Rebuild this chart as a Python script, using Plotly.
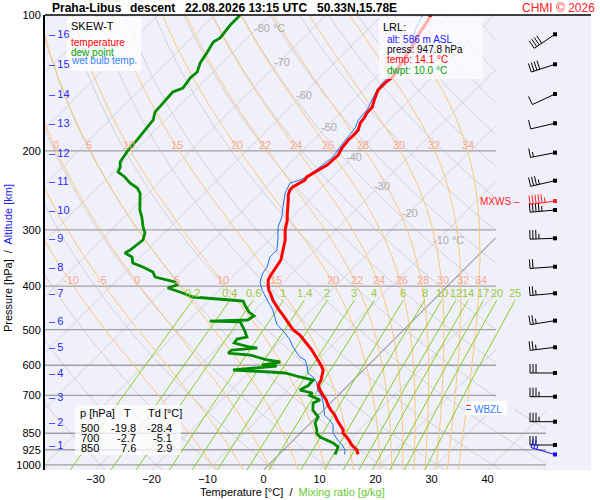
import numpy as np
import plotly.graph_objects as go

# ---------------- data ----------------
temp_p = [947.8, 926.3, 902.8, 880.0, 857.9, 850.0, 836.2, 815.0, 794.5, 774.3, 754.7, 735.6, 717.0, 700.0,
          681.2, 664.0, 647.2, 630.8, 614.8, 599.3, 584.1, 569.4, 554.9, 540.9, 527.2, 514.0, 500.0, 488.3,
          475.9, 463.9, 452.1, 440.7, 429.5, 418.7, 408.1, 397.8, 387.7, 377.9, 368.3, 359.0, 349.9, 341.1,
          332.5, 324.0, 315.9, 307.9, 300.1, 292.5, 285.1, 277.9, 270.9, 264.0, 257.3, 250.8, 244.5, 240.7,
          235.9, 232.3, 228.7, 224.1, 218.4, 215.1, 209.7, 204.4, 197.2, 189.2, 184.4, 179.8, 173.4, 169.1,
          164.8, 159.8, 154.2, 150.3, 146.5, 142.8, 140.6, 137.0, 132.2, 128.9, 123.7, 119.3, 115.1, 111.6,
          107.7, 105.0, 102.3, 100.0]
temp_T = [14.1, 13.1, 11.3, 9.9, 8.3, 7.6, 7.1, 5.6, 4.2, 2.9, 1.3, -0.1, -1.3, -2.7,
          -4.2, -5.4, -5.8, -6.5, -7.2, -8.5, -9.9, -11.3, -12.8, -14.4, -16.0, -17.6, -19.8, -21.2,
          -22.6, -24.2, -25.8, -27.2, -28.7, -29.9, -31.2, -32.2, -33.1, -33.5, -33.8, -34.0, -34.4, -35.1,
          -35.8, -36.5, -37.2, -38.1, -39.0, -39.7, -40.4, -41.3, -42.1, -42.9, -43.8, -44.7, -45.3, -45.3,
          -44.7, -44.4, -44.6, -44.2, -43.5, -43.1, -42.9, -42.9, -43.5, -43.8, -43.7, -43.8, -44.7, -44.9,
          -45.3, -45.4, -46.3, -46.9, -47.4, -47.4, -47.4, -47.1, -47.6, -47.9, -48.5, -48.8, -49.4, -49.9,
          -50.4, -50.6, -51.0, -51.3]

dew_p = [947.8, 926.3, 912.1, 893.6, 880.0, 866.6, 850.0, 836.2, 806.6, 782.2, 754.7, 728.1, 717.0, 700.0,
         691.7, 681.2, 665.7, 647.2, 637.2, 624.3, 621.1, 614.8, 602.4, 599.3, 590.1, 584.1, 569.4, 563.6,
         554.9, 549.3, 546.5, 535.4, 524.6, 519.3, 501.0, 480.7, 478.4, 475.9, 466.2, 456.8, 440.7, 431.7,
         429.5, 423.0, 412.3, 404.0, 397.8, 391.7, 381.8, 372.2, 362.7, 355.4, 344.6, 337.6, 332.5, 324.0,
         315.9, 304.7, 295.5, 280.8, 270.9, 248.3, 242.0, 235.9, 228.7, 222.9, 217.3, 211.8, 204.4, 199.2,
         189.2, 179.8, 170.8, 164.0, 156.6, 148.0, 145.0, 137.7, 133.6, 127.5, 121.2, 114.5, 112.2, 105.0,
         100.0]
dew_T = [10.0, 9.6, 9.2, 7.6, 6.0, 4.2, 2.9, 2.4, 0.8, 0.3, -1.9, -3.1, -2.4, -5.1,
         -5.0, -7.8, -7.1, -7.2, -10.1, -13.5, -16.3, -23.3, -16.2, -19.0, -16.3, -19.0, -22.9, -27.2,
         -27.1, -22.9, -24.4, -27.9, -28.1, -26.7, -28.4, -30.6, -36.2, -29.6, -29.2, -30.8, -32.8, -33.8,
         -36.3, -43.5, -46.7, -49.6, -48.5, -49.4, -53.8, -55.1, -57.8, -60.3, -61.5, -63.5, -63.1, -62.8,
         -62.6, -63.5, -64.9, -66.9, -68.5, -71.5, -72.9, -75.1, -77.1, -79.2, -79.7, -80.6, -81.0, -81.3,
         -81.5, -81.9, -82.2, -83.3, -83.5, -83.7, -82.6, -83.1, -82.9, -84.0, -84.6, -85.4, -84.9, -85.4,
         -85.4]

wb_p = [947.8, 926.3, 902.8, 880.0, 849.0, 815.0, 794.5, 776.3, 728.1, 706.1, 681.2, 657.2, 637.2, 624.3,
        605.3, 584.1, 575.3, 563.6, 546.5, 527.2, 511.4, 485.8, 452.1, 429.5, 408.1, 391.7, 374.1, 362.7,
        344.6, 332.5, 315.9, 295.5, 280.8, 266.7, 248.3, 235.9, 232.3, 228.7, 217.3, 206.5, 192.2, 178.0,
        170.8, 162.3, 154.2, 146.5, 141.3, 134.3, 119.3, 107.7, 100.0]
wb_T = [11.7, 11.0, 9.6, 7.9, 5.8, 4.4, 2.9, 1.2, -1.3, -2.6, -4.6, -6.0, -7.8, -9.4,
        -10.6, -12.2, -13.7, -14.9, -16.7, -18.5, -20.3, -23.7, -26.9, -29.7, -32.4, -34.2, -35.3, -35.6,
        -36.9, -36.9, -38.5, -40.8, -41.9, -43.5, -45.6, -46.5, -45.3, -44.6, -44.0, -43.5, -44.2, -44.7,
        -45.6, -45.8, -46.7, -47.6, -47.9, -47.9, -48.8, -51.5, -52.8]

alt_km = list(range(1, 17))
alt_p = [902.8, 801.2, 704.9, 624.3, 547.3, 477.5, 415.1, 362.2, 313.1, 270.9, 233.1, 201.9, 173.7,
         149.5, 128.4, 110.1]

wind_dir = [270, 270, 270, 270, 263, 261, 265, 266, 268, 265, 257, 259, 257, 245, 252, 236]
wind_kt = [30, 35, 35, 30, 25, 25, 25, 20, 35, 45, 35, 15, 10, 10, 40, 40]
mxws_p, mxws_dir, mxws_kt = 258.7, 262, 55
sfc_dir, sfc_kt = 286, 25
lrl_alt = 586

table_p = [500, 700, 850]
table_T = [-19.8, -2.7, 7.6]
table_Td = [-28.4, -5.1, 2.9]

p_ticks = [100, 200, 300, 400, 500, 600, 700, 850, 925, 1000]
t_ticks = [-30, -20, -10, 0, 10, 20, 30, 40]
isobars = [200, 300, 400, 500, 600, 700, 850, 925, 1000]
thw_list = [-10, -5, 0, 5, 10, 15, 20, 22, 24, 26, 28, 30, 32, 34]
thw_top = [0, 5, 10, 15, 20, 22, 24, 26, 28, 30, 32, 34]
mix_list = [0.2, 0.4, 0.6, 1, 1.4, 2, 3, 4, 6, 8, 10, 12, 14, 17, 20, 25]
iso_lab_T = [-80, -70, -60, -50, -40, -30, -20, -10]
iso_lab_p = [106.6, 126.9, 150.3, 177.0, 206.5, 239.5, 275.1, 315.9]

# ---------------- geometry ----------------
FONT = "Liberation Sans, Arial, sans-serif"
W, H = 600, 500
ML, MR, MT, MB = 45, 9, 15, 30
PW, PH = W - ML - MR, H - MT - MB
P_BOT, P_TOP = 1026.2, 99.74
SKEW = 34.857
X_MIN, X_MAX = -39.02, 58.48
XG1, XG2 = 41.52, 50.45


def skx(T, p):
    return np.asarray(T, float) + SKEW * np.log(P_BOT / np.asarray(p, float))


def px(x):
    return (x - ML) / PW


def py(y):
    return 1 - (y - MT) / PH


def lg(p):
    return float(np.log10(p))


def tolist(a):
    return [None if (v is None or not np.isfinite(v)) else float(v) for v in a]


def esat(Tc):
    return 6.112 * np.exp(17.67 * Tc / (Tc + 243.5))


def theta_e_sat(Tk, p):
    # Bolton (1980) equivalent potential temperature of saturated air
    e = esat(Tk - 273.15)
    r = 0.622 * e / (p - e)
    return Tk * (1000.0 / p) ** (0.2854 * (1 - 0.28 * r)) * np.exp((3.376 / Tk - 0.00254) * r * 1000 * (1 + 0.81 * r))


def moist(thw, pgrid):
    the = theta_e_sat(thw + 273.15, 1000.0)
    lo = np.full_like(pgrid, 120.0)
    hi = np.full_like(pgrid, 330.0)
    for _ in range(60):
        mid = 0.5 * (lo + hi)
        big = theta_e_sat(mid, pgrid) > the
        hi = np.where(big, mid, hi)
        lo = np.where(big, lo, mid)
    return 0.5 * (lo + hi) - 273.15


def mix_T(w, p):
    e = w * p / (622.0 + w)
    L = np.log(e / 6.112)
    return 243.5 * L / (17.67 - L)


fig = go.Figure()


def add(x, y, color, width, xaxis='x'):
    fig.add_trace(go.Scatter(x=x, y=y, mode='lines', line=dict(color=color, width=width),
                             hoverinfo='skip', showlegend=False, connectgaps=False, xaxis=xaxis))


# ---- gray lattice (isotherms + dry adiabats) ----
pp = np.geomspace(P_TOP, P_BOT, 800)
lim = np.where(pp < 750, XG1, XG2)
gx, gy = [], []
for T in range(-130, 60, 10):
    if T == 0:
        continue
    X = skx(np.full_like(pp, T), pp)
    X[X > lim] = np.nan
    gx += tolist(X) + [None]
    gy += list(pp) + [None]
for th in range(-40, 210, 10):
    Tk = (th + 273.15) * (pp / 1000.0) ** 0.2857
    X = skx(Tk - 273.15, pp)
    X[X > lim] = np.nan
    gx += tolist(X) + [None]
    gy += list(pp) + [None]
add(gx, gy, '#d2d2d8', 1)

# isobars
for p in isobars:
    add([X_MIN, XG2 if p >= 750 else XG1], [p, p], '#a0a0a0', 1.3)

# 0 degC isotherm
X0 = skx(np.zeros_like(pp), pp)
X0[X0 > lim] = np.nan
add(tolist(X0), list(pp), '#707070', 1)

# moist adiabats
ox, oy = [], []
ann = []
pm = np.geomspace(P_TOP, P_BOT, 300)
for thw in thw_list:
    Tm = moist(thw, pm)
    Xm = skx(Tm, pm)
    ox += tolist(Xm) + [None]
    oy += list(pm) + [None]
    for prow, lst in ((194.0, thw_top), (387.7, thw_list)):
        if thw in lst:
            xl = float(skx(moist(thw, np.array([prow]))[0], prow))
            ann.append(dict(x=xl, y=lg(prow), xref='x', yref='y', text=str(thw), showarrow=False,
                            xshift=2, font=dict(size=11, color='#f6a98c')))
add(ox, oy, '#ffc67c', 1)

# mixing ratio lines
mx, my = [], []
pmx = np.geomspace(430, P_BOT, 60)
for w in mix_list:
    Xw = skx(mix_T(w, pmx), pmx)
    mx += tolist(Xw) + [None]
    my += list(pmx) + [None]
    ann.append(dict(x=float(skx(mix_T(w, 430.0), 430.0)), y=lg(430), xref='x', yref='y', text=str(w),
                    showarrow=False, yshift=7, font=dict(size=11, color='#99cc33')))
add(mx, my, '#86cf26', 1)

# sounding curves
add(tolist(skx(wb_T, wb_p)), wb_p, '#1f6fef', 1)
add(tolist(skx(dew_T, dew_p)), dew_p, '#008c00', 2.8)
add(tolist(skx(temp_T, temp_p)), temp_p, '#ff0000', 3)

# ---- wind barbs: drawn on a linear helper axis y2 = -log10(p) (same scale as the log axis) ----
shapes = []
XD = 555
all_p = alt_p + [mxws_p, temp_p[0]]
all_d = wind_dir + [mxws_dir, sfc_dir]
all_s = wind_kt + [mxws_kt, sfc_kt]
all_c = ['black'] * len(alt_p) + ['#ff2020', '#1010ff']
for p, d, s, c in zip(all_p, all_d, all_s, all_c):
    r = np.deg2rad(d)
    ux, uy = float(np.sin(r)), float(np.cos(r))
    vx, vy = uy, -ux
    L, gap, fl, hl = 25, 3, 9, 5
    base = dict(type='line', xref='x2', yref='y2', xsizemode='pixel', ysizemode='pixel',
                xanchor=XD, yanchor=-lg(p), layer='above', line=dict(color=c, width=1))
    shapes.append(dict(base, x0=0, y0=0, x1=L * ux, y1=L * uy))
    nfull, half = int(s // 10), (s % 10) >= 5
    pos = L
    for i in range(nfull):
        shapes.append(dict(base, x0=pos * ux, y0=pos * uy, x1=pos * ux + fl * vx, y1=pos * uy + fl * vy))
        pos -= gap
    if half:
        if nfull == 0:
            pos -= gap
        shapes.append(dict(base, x0=pos * ux, y0=pos * uy, x1=pos * ux + hl * vx, y1=pos * uy + hl * vy))
fig.add_trace(go.Scatter(x=[XD] * len(all_p), y=[-lg(p) for p in all_p], xaxis='x2', yaxis='y2',
                         mode='markers', hoverinfo='skip', showlegend=False,
                         marker=dict(symbol='square', size=4, color=all_c, line=dict(width=0))))

# ---- frame line on top ----
shapes.append(dict(type='line', xref='paper', yref='paper', x0=0, x1=1, y0=1, y1=1,
                   line=dict(color='black', width=1.5), layer='above'))


# ---- boxes ----
def box(x0, x1, y0, y1, fill):
    shapes.append(dict(type='rect', xref='paper', yref='paper', x0=px(x0), x1=px(x1), y0=py(y1), y1=py(y0),
                       fillcolor=fill, line=dict(width=0), layer='above'))


box(67, 141, 17, 71, 'rgba(255,255,255,0.8)')
box(379, 483, 17, 79, 'rgba(255,255,255,0.68)')
box(75, 181, 405, 455, 'rgba(255,255,255,0.75)')
box(465, 507, 401, 415, 'rgba(255,255,255,0.95)')


def text(x, y, t, size=11, color='black', xanchor='left', bold=False, **kw):
    d = dict(x=px(x), y=py(y), xref='paper', yref='paper', text=('<b>%s</b>' % t) if bold else t,
             showarrow=False, xanchor=xanchor, yanchor='middle', font=dict(size=size, color=color), **kw)
    ann.append(d)


# title
text(50, 8, 'Praha-Libus', 12, bold=True)
text(128, 8, 'descent', 12, bold=True)
text(183, 8, '22.08.2026 13:15 UTC', 12, bold=True)
text(315, 8, '50.33N,15.78E', 12, bold=True)
text(597, 8, 'CHMI © 2026', 12, '#ff2020', xanchor='right')

# legend
text(69, 26, 'SKEW-T', 11)
text(69, 42, 'temperature', 10, '#ff0000')
text(69, 52, 'dew point', 10, '#00a000')
text(69, 61, 'wet bulb temp.', 10, '#3380ff')

# LRL box
text(381, 27, 'LRL:', 11)
text(385, 39, 'alt: %d m ASL' % lrl_alt, 10, '#2020ff')
text(385, 50, 'press: %.1f hPa' % temp_p[0], 10)
text(385, 60, 'temp: %.1f °C' % temp_T[0], 10, '#ff0000')
text(385, 70, 'dwpt: %.1f °C' % dew_T[0], 10, '#00a000')

# table
text(78, 413, 'p [hPa]', 11)
text(127, 413, 'T', 11, xanchor='center')
text(146, 413, 'Td [°C]', 11)
for i, (p, t, td) in enumerate(zip(table_p, table_T, table_Td)):
    yy = 428 + 10 * i
    text(101, yy, str(p), 11, xanchor='right')
    text(138, yy, '%.1f' % t, 11, xanchor='right')
    text(174, yy, '%.1f' % td, 11, xanchor='right')

# altitude ticks
for km, p in zip(alt_km, alt_p):
    ann.append(dict(x=px(47), y=lg(p), xref='paper', yref='y', text='–\u2009%d' % km, showarrow=False,
                    xanchor='left', yanchor='middle', font=dict(size=11, color='#2a2aff')))

# isotherm labels
for T, p in zip(iso_lab_T, iso_lab_p):
    t = '%d °C' % T if T in (-80, -10) else '%d' % T
    ann.append(dict(x=float(skx(T, p)), y=lg(p), xref='x', yref='y', text=t, showarrow=False,
                    xanchor='left' if T in (-80, -10) else 'center', xshift=-6 if T in (-80, -10) else 2,
                    font=dict(size=11, color='#ababab')))

# MXWS label
ann.append(dict(x=px(522), y=lg(mxws_p), xref='paper', yref='y', text='MXWS –', showarrow=False,
                xanchor='right', yanchor='middle', font=dict(size=10, color='#ff2020')))


# freezing level / wet bulb zero
def cross0(ps, ts):
    for i in range(len(ts) - 1):
        if ts[i] >= 0 > ts[i + 1]:
            f = ts[i] / (ts[i] - ts[i + 1])
            return float(np.exp(np.log(ps[i]) + f * (np.log(ps[i + 1]) - np.log(ps[i]))))
    return None


p_fz = cross0(temp_p, temp_T)
p_wbz = cross0(wb_p, wb_T)
for pz, c in ((p_fz, '#ff2020'), (p_wbz, '#2060ff')):
    shapes.append(dict(type='line', xref='x2', yref='y2', x0=466, x1=471, y0=-lg(pz), y1=-lg(pz),
                       line=dict(color=c, width=1), layer='above'))
ann.append(dict(x=px(472), y=lg(p_wbz), xref='paper', yref='y', text='WBZL', showarrow=False,
                xanchor='left', yanchor='middle', font=dict(size=10, color='#3380ff')))

# axis titles
ann.append(dict(x=px(292), y=py(492), xref='paper', yref='paper', showarrow=False, xanchor='center',
                yanchor='middle', font=dict(size=11),
                text='Temperature [°C] \u00a0/\u00a0 <span style="color:#66cc33">Mixing ratio [g/kg]</span>'))
ann.append(dict(x=px(8), y=py(258), xref='paper', yref='paper', showarrow=False, xanchor='center',
                yanchor='middle', textangle=-90, font=dict(size=11),
                text='Pressure [hPa] \u00a0/\u00a0 <span style="color:#2020ff">Altitude [km]</span>'))

fig.update_layout(
    width=W, height=H, margin=dict(l=ML, r=MR, t=MT, b=MB, pad=0),
    paper_bgcolor='white', plot_bgcolor='#f0f0fb',
    font=dict(family=FONT, size=11, color='black'),
    xaxis=dict(range=[X_MIN, X_MAX], tickvals=t_ticks, showgrid=False, zeroline=False, showline=False,
               ticks='', tickfont=dict(size=11, color='black'), fixedrange=True, ticklabelstandoff=1),
    xaxis2=dict(overlaying='x', range=[ML, W - MR], visible=False, fixedrange=True),
    yaxis=dict(type='log', range=[lg(P_BOT), lg(P_TOP)], tickvals=p_ticks, ticktext=[str(v) for v in p_ticks],
               showgrid=False, zeroline=False, showline=True, linecolor='black', linewidth=2, ticks='',
               tickfont=dict(size=11, color='black'), fixedrange=True),
    yaxis2=dict(overlaying='y', range=[-lg(P_BOT), -lg(P_TOP)], visible=False, fixedrange=True),
    shapes=shapes, annotations=ann, showlegend=False, hovermode=False,
)

fig.write_html("out.html", config={'displayModeBar': False},
               post_script="document.body.style.margin='0px';document.body.style.overflow='hidden';")
